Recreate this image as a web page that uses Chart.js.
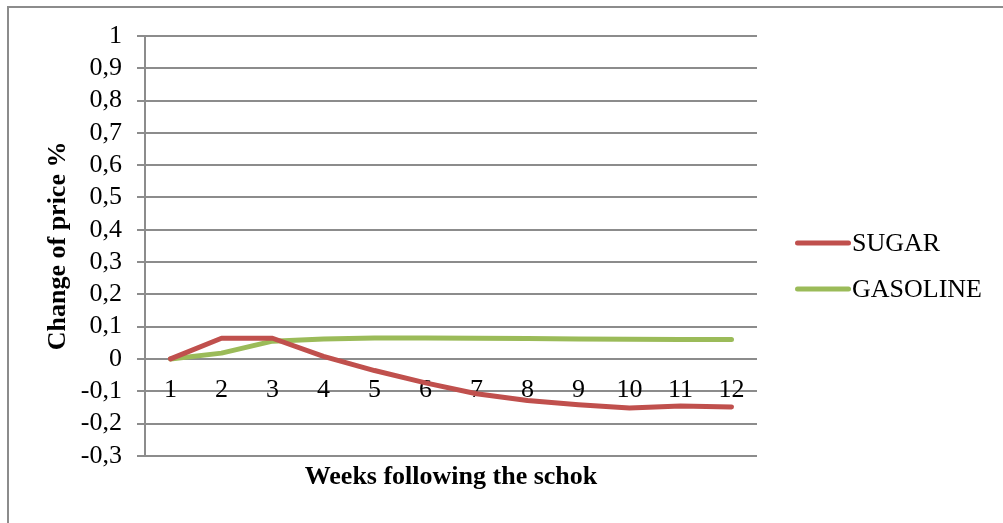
<!DOCTYPE html>
<html>
<head>
<meta charset="utf-8">
<script src="https://cdn.jsdelivr.net/npm/chart.js@4/dist/chart.umd.min.js"></script>
<style>
  html, body { margin: 0; padding: 0; background: #fff; overflow: hidden; }
  #wrap { position: relative; width: 1003px; height: 523px; }
  #frame { position: absolute; left: 7px; top: 6px; width: 1100px; height: 700px;
           border: 2px solid #8c8c8c; box-sizing: border-box; pointer-events: none; }
  canvas { position: absolute; left: 0; top: 0; }
</style>
</head>
<body>
<div id="wrap">
  <div id="frame"></div>
  <canvas id="c" width="1003" height="523"></canvas>
</div>
<script>
// Weeks after the shock and the price change of each good
const weeks = ['1', '2', '3', '4', '5', '6', '7', '8', '9', '10', '11', '12'];
const sugar = [0, 0.064, 0.064, 0.008, -0.036, -0.074, -0.108, -0.129, -0.142, -0.152, -0.146, -0.149];
const gasoline = [0, 0.018, 0.055, 0.062, 0.065, 0.065, 0.064, 0.063, 0.062, 0.061, 0.06, 0.06];
const seriesNames = ['SUGAR', 'GASOLINE'];
const yAxisTitle = 'Change of price %';
const xAxisTitle = 'Weeks following the schok';

const FONT = "'Times New Roman', 'Liberation Serif', serif";
const GRID = '#8c8c8c';

// Legend drawn to the right of the plot: a short line sample followed by the name
const sideLegend = {
  id: 'sideLegend',
  afterDraw(chart) {
    const ctx = chart.ctx;
    const x0 = chart.chartArea.right + 38;
    const rows = [243, 289];
    ctx.save();
    chart.data.datasets.forEach((ds, i) => {
      const y = rows[i];
      ctx.strokeStyle = ds.borderColor;
      ctx.lineWidth = 5;
      ctx.lineCap = 'round';
      ctx.beginPath();
      ctx.moveTo(x0 + 2.5, y);
      ctx.lineTo(x0 + 53.5, y);
      ctx.stroke();
      ctx.fillStyle = '#000';
      ctx.font = '26px ' + FONT;
      ctx.textBaseline = 'middle';
      ctx.textAlign = 'left';
      ctx.fillText(ds.label, x0 + 57, y + 1);
    });
    ctx.restore();
  }
};

new Chart(document.getElementById('c'), {
  type: 'line',
  data: {
    labels: weeks,
    datasets: [
      { label: seriesNames[0], data: sugar, borderColor: '#C0504D', backgroundColor: '#C0504D' },
      { label: seriesNames[1], data: gasoline, borderColor: '#9BBB59', backgroundColor: '#9BBB59' }
    ]
  },
  options: {
    responsive: false,
    animation: false,
    layout: { padding: { top: 36, left: 0, right: 246, bottom: 30 } },
    elements: {
      line: { borderWidth: 5, tension: 0, borderCapStyle: 'round', borderJoinStyle: 'round' },
      point: { radius: 0, hoverRadius: 0 }
    },
    plugins: {
      legend: { display: false },
      tooltip: { enabled: false },
      title: {
        display: true,
        position: 'bottom',
        fullSize: false,
        text: xAxisTitle,
        color: '#000',
        font: { family: FONT, size: 26, weight: 'bold' },
        padding: { top: 6, bottom: 0 }
      }
    },
    scales: {
      x: {
        type: 'category',
        position: { y: 0 },
        offset: true,
        grid: { display: false, drawTicks: false },
        border: { display: false },
        ticks: { color: '#000', font: { family: FONT, size: 26 }, padding: 16, maxRotation: 0, autoSkip: false }
      },
      y: {
        min: -0.3,
        max: 1,
        afterFit(scale) { scale.width = 145; },
        ticks: {
          stepSize: 0.1,
          autoSkip: false,
          color: '#000',
          font: { family: FONT, size: 26 },
          padding: 15,
          callback: v => String(Math.round(v * 10) / 10).replace('.', ',')
        },
        grid: { color: GRID, lineWidth: 2, tickLength: 8, drawTicks: true },
        border: { display: true, color: GRID, width: 2 },
        title: {
          display: true,
          text: yAxisTitle,
          color: '#000',
          font: { family: FONT, size: 26, weight: 'bold' },
          padding: { top: 43, bottom: 0 }
        }
      }
    }
  },
  plugins: [sideLegend]
});
</script>
</body>
</html>
